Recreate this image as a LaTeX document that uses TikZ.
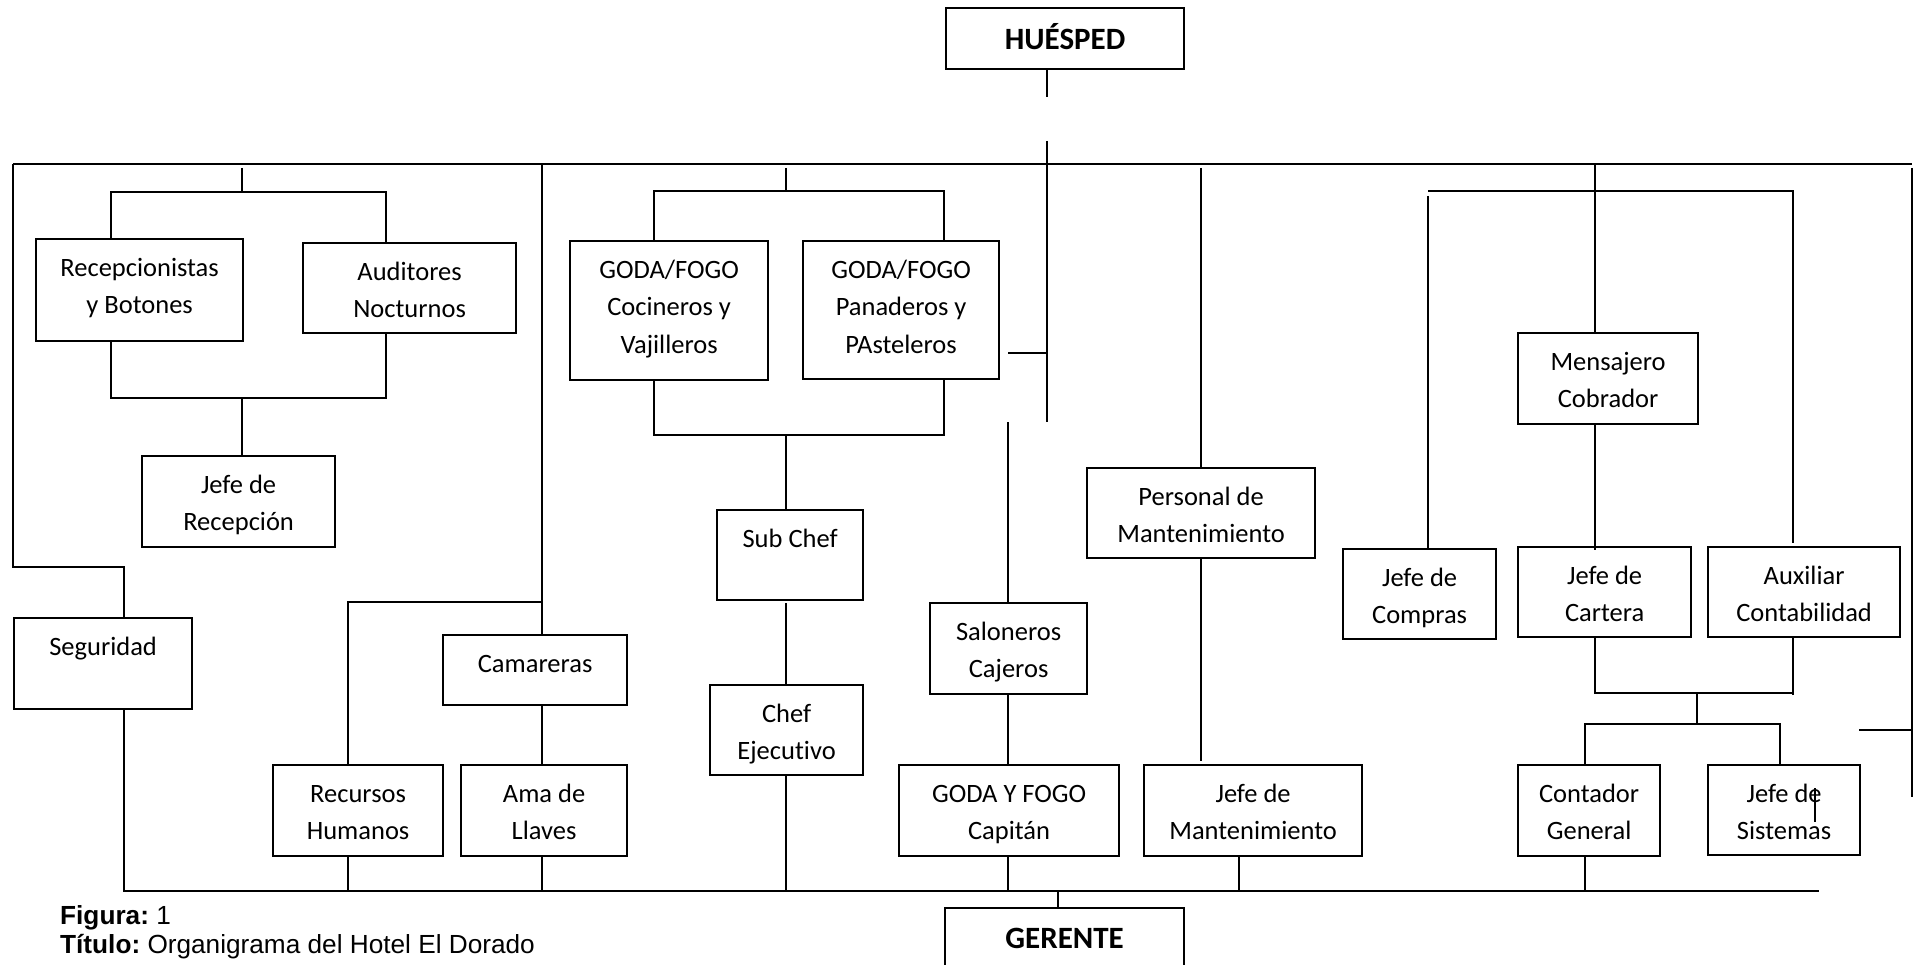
\documentclass[tikz,border=0pt]{standalone}
\usepackage{fontspec}
\setmainfont{Carlito}[Ligatures=NoCommon]
\newfontfamily\capfont{Liberation Sans}
\tikzset{
  ln/.style={line width=2pt},
  orgbox/.style={draw, line width=2.2pt, inner sep=0pt, font=\fontsize{26.5}{37.5}\selectfont},
  captext/.style={anchor=base west, inner sep=0pt, font=\capfont\fontsize{26.2}{30}\selectfont},
}
% #1 strut, #2 name, #3 x, #4 y, #5 w, #6 h, #7 text
\newcommand\orgbox[7][37]{%
  \node[orgbox, anchor=north west] (#2) at (#3,#4)
    {\parbox[c][#6pt][t]{#5pt}{\centering\rule{0pt}{#1pt}#7}};}
\begin{document}
\begin{tikzpicture}[x=1pt,y=-1pt]
\useasboundingbox (0,0) rectangle (1919,965);
\fill[white] (0,0) rectangle (1919,965);

% boxes
\orgbox[41]{huesped}{945}{7}{238}{61}{\bfseries\fontsize{31}{37}\selectfont HUÉSPED}
\orgbox{recep}{35}{238}{207}{102}{Recepcionistas\\y Botones}
\orgbox{audit}{302}{242}{213}{90}{Auditores\\Nocturnos}
\orgbox{jeferecep}{141}{455}{193}{91}{Jefe de\\Recepción}
\orgbox{seguridad}{13}{617}{178}{91}{Seguridad}
\orgbox{camareras}{442}{634}{184}{70}{Camareras}
\orgbox{recursos}{272}{764}{170}{91}{Recursos\\Humanos}
\orgbox{ama}{460}{764}{166}{91}{Ama de\\Llaves}
\orgbox{cocineros}{569}{240}{198}{139}{GODA/FOGO\\Cocineros y\\Vajilleros}
\orgbox{panaderos}{802}{240}{196}{138}{GODA/FOGO\\Panaderos y\\PAsteleros}
\orgbox{subchef}{716}{509}{146}{90}{Sub Chef}
\orgbox{chef}{709}{684}{153}{90}{Chef\\Ejecutivo}
\orgbox{saloneros}{929}{602}{157}{91}{Saloneros\\Cajeros}
\orgbox{capitan}{898}{764}{220}{91}{GODA Y FOGO\\Capitán}
\orgbox[40]{gerente}{944}{907}{239}{60}{\bfseries\fontsize{31}{37}\selectfont GERENTE}
\orgbox{personal}{1086}{467}{228}{90}{Personal de\\Mantenimiento}
\orgbox{jefemant}{1143}{764}{218}{91}{Jefe de\\Mantenimiento}
\orgbox{mensajero}{1517}{332}{180}{91}{Mensajero\\Cobrador}
\orgbox{compras}{1342}{548}{153}{90}{Jefe de\\Compras}
\orgbox{cartera}{1517}{546}{173}{90}{Jefe de\\Cartera}
\orgbox{auxiliar}{1707}{546}{192}{90}{Auxiliar\\Contabilidad}
\orgbox{contador}{1517}{764}{142}{91}{Contador\\General}
\orgbox{sistemas}{1707}{764}{152}{90}{Jefe de\\Sistemas}

% main lines
\coordinate (hsA) at (1047,97);
\coordinate (hsB) at (1047,141);
\coordinate (hsC) at (1047,422);
\coordinate (hsD) at (1008,353);
\coordinate (hsE) at (1047,353);
\coordinate (tl) at (13,164);
\coordinate (tr) at (1912,164);
\coordinate (sgA) at (124,567);
\coordinate (bl) at (124,891);
\coordinate (br) at (1819,891);
\draw[ln] (hsA |- huesped.south) -- (hsA);
\draw[ln] (hsB) -- (hsC);
\draw[ln] (hsD) -- (hsE);
\draw[ln] (tl) -- (tr);
\draw[ln] (tl) |- (sgA) -- (sgA |- seguridad.north);
\draw[ln] (bl |- seguridad.south) -- (bl) -- (br);

% reception
\coordinate (rcT) at (242,168);
\coordinate (rcA) at (111,192);
\coordinate (rcB) at (386,192);
\coordinate (rcC) at (111,398);
\coordinate (rcD) at (386,398);
\draw[ln] (rcT) -- (rcT |- rcA);
\draw[ln] (rcA |- recep.north) -- (rcA) -- (rcB) -- (rcB |- audit.north);
\draw[ln] (rcC |- recep.south) -- (rcC) -- (rcD) -- (rcD |- audit.south);
\draw[ln] (rcT |- rcC) -- (rcT |- jeferecep.north);

% housekeeping
\coordinate (hkT) at (542,164);
\coordinate (hkA) at (348,602);
\draw[ln] (hkT) -- (hkT |- camareras.north);
\draw[ln] (hkA |- recursos.north) -- (hkA) -- (hkA -| hkT);
\draw[ln] (hkT |- camareras.south) -- (hkT |- ama.north);
\draw[ln] (hkA |- recursos.south) -- (hkA |- bl);
\draw[ln] (hkT |- ama.south) -- (hkT |- bl);

% kitchen
\coordinate (kcT) at (786,168);
\coordinate (kcA) at (654,191);
\coordinate (kcB) at (944,191);
\coordinate (kcC) at (654,435);
\coordinate (kcD) at (944,435);
\coordinate (kcE) at (786,603);
\draw[ln] (kcT) -- (kcT |- kcA);
\draw[ln] (kcA |- cocineros.north) -- (kcA) -- (kcB) -- (kcB |- panaderos.north);
\draw[ln] (kcC |- cocineros.south) -- (kcC) -- (kcD) -- (kcD |- panaderos.south);
\draw[ln] (kcT |- kcC) -- (kcT |- subchef.north);
\draw[ln] (kcE) -- (kcE |- chef.north);
\draw[ln] (kcE |- chef.south) -- (kcE |- bl);

% saloneros
\coordinate (slT) at (1008,422);
\draw[ln] (slT) -- (slT |- saloneros.north);
\draw[ln] (slT |- saloneros.south) -- (slT |- capitan.north);
\draw[ln] (slT |- capitan.south) -- (slT |- bl);
\coordinate (gr) at (1058,891);
\draw[ln] (gr) -- (gr |- gerente.north);

% maintenance
\coordinate (mtT) at (1201,168);
\coordinate (mtA) at (1201,761);
\coordinate (mtB) at (1239,891);
\draw[ln] (mtT) -- (mtT |- personal.north);
\draw[ln] (mtT |- personal.south) -- (mtA);
\draw[ln] (mtB |- jefemant.south) -- (mtB);

% finance
\coordinate (fnT) at (1595,164);
\coordinate (fnA) at (1428,191);
\coordinate (fnB) at (1793,191);
\coordinate (fnA2) at (1428,196);
\coordinate (fnB2) at (1793,543);
\coordinate (fnC) at (1595,550);
\coordinate (fnD) at (1595,693);
\coordinate (fnE) at (1793,695);
\coordinate (fnF) at (1697,724);
\coordinate (fnG) at (1585,724);
\coordinate (fnH) at (1780,724);
\draw[ln] (fnT) -- (fnT |- mensajero.north);
\draw[ln] (fnA) -- (fnB) -- (fnB2);
\draw[ln] (fnA2) -- (fnA2 |- compras.north);
\draw[ln] (fnT |- mensajero.south) -- (fnC);
\draw[ln] (fnT |- cartera.south) -- (fnD) -- (fnD -| fnE);
\draw[ln] (fnE) -- (fnE |- auxiliar.south);
\draw[ln] (fnF |- fnD) -- (fnF);
\draw[ln] (fnG |- contador.north) -- (fnG) -- (fnH) -- (fnH |- sistemas.north);
\draw[ln] (fnG |- contador.south) -- (fnG |- bl);
\coordinate (ssA) at (1815,788);
\coordinate (ssB) at (1815,822);
\draw[ln] (ssA) -- (ssB);
\coordinate (rtT) at (1912,168);
\coordinate (rtB) at (1912,797);
\coordinate (rtS) at (1859,730);
\draw[ln] (rtT) -- (rtB);
\draw[ln] (rtS) -- (rtS -| rtT);

% caption
\node[captext] (figura) at (60,924) {\textbf{Figura:}\ 1};
\node[captext] (titulo) at (60,953) {\textbf{Título:}\ Organigrama del Hotel El Dorado};
\end{tikzpicture}
\end{document}
